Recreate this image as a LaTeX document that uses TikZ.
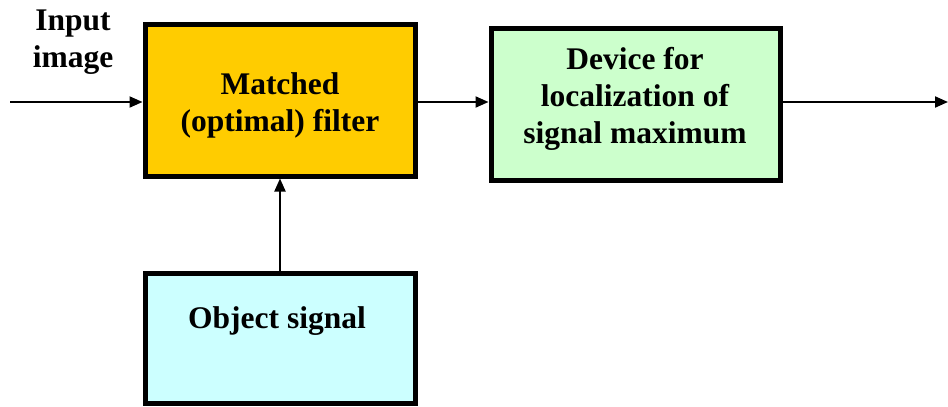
\documentclass[tikz,border=0pt]{standalone}
\usepackage{fontspec}
\setmainfont{Liberation Serif}
\usetikzlibrary{arrows.meta}
\definecolor{filterfill}{HTML}{FFCC00}
\definecolor{devicefill}{HTML}{CCFFCC}
\definecolor{objectfill}{HTML}{CCFFFF}
\begin{document}
\begin{tikzpicture}[x=1pt,y=-1pt,
  block/.style={draw=black, line width=5pt, inner sep=0pt},
  caption/.style={font=\fontsize{31.5}{37}\selectfont\bfseries, align=center},
  link/.style={line width=2pt, -{Triangle[length=13pt,width=11pt]}}]
\useasboundingbox (0,0) rectangle (948,407);
% processing blocks
\node[block, fill=filterfill, minimum width=270pt, minimum height=152pt] (filter) at (280,100) {};
\node[caption] (filtertext) at (280,105) {Matched\\(optimal) filter};
\node[block, fill=devicefill, minimum width=289pt, minimum height=152pt] (device) at (635.5,104) {};
\node[caption] (devicetext) at (635,99) {Device for\\localization of\\signal maximum};
\node[block, fill=objectfill, minimum width=270pt, minimum height=130pt] (object) at (280,338) {};
\node[caption] (objecttext) at (277,321) {Object signal};
\node[caption] (inlabel) at (73,42) {Input\\image};
% free ends of the input and output lines
\coordinate (in) at (10,102);
\coordinate (out) at (948,102);
% signal flow
\draw[link] (in) -- (filter.west |- in);
\draw[link] (filter.east |- in) -- (device.west |- in);
\draw[link] (device.east |- in) -- (out);
\draw[link] (object.north) -- (filter.south);
\end{tikzpicture}
\end{document}
